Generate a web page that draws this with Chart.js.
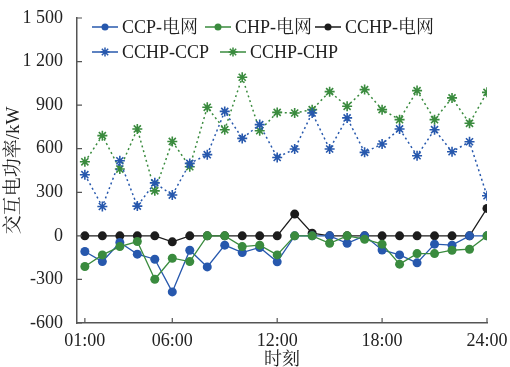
<!DOCTYPE html>
<html>
<head>
<meta charset="utf-8">
<script src="https://cdn.jsdelivr.net/npm/chart.js@4/dist/chart.umd.min.js"></script>
<style>
  html, body { margin: 0; padding: 0; background: #fff; }
  #wrap { width: 510px; height: 367px; }
</style>
</head>
<body>
<div id="wrap"><canvas id="c"></canvas></div>
<script>
// Horas (eje x) y ticks
const hours = [1,2,3,4,5,6,7,8,9,10,11,12,13,14,15,16,17,18,19,20,21,22,23,24];
const xTicks = [1, 6, 12, 18, 24];
const yTicks = [-600, -300, 0, 300, 600, 900, 1200, 1500];

// Series (kW)
const ccpGrid   = [-108,-177,-46,-126,-161,-386,-99,-214,-64,-115,-80,-179,0,0,0,-51,0,-97,-131,-186,-57,-64,0,0];
const chpGrid   = [-211,-131,-74,-39,-299,-154,-177,0,0,-74,-64,-131,0,0,-51,0,-23,-57,-195,-122,-122,-99,-92,0];
const cchpGrid  = [0,0,0,0,0,-41,0,0,0,0,0,0,150,18,0,0,0,0,0,0,0,0,0,189];
const cchpCcp   = [421,202,517,205,365,281,499,559,857,671,766,540,598,846,598,812,575,632,736,552,731,579,648,276];
const cchpChp   = [510,690,460,736,310,650,476,885,731,1092,724,850,846,869,993,892,1007,869,800,1000,800,950,775,988];

const names = ["CCP-电网", "CHP-电网", "CCHP-电网", "CCHP-CCP", "CCHP-CHP"];

const BLUE = "#2758ad";
const GREEN = "#3a8b3e";
const BLACK = "#1c1c1c";
const FONT = "'Liberation Serif', 'Noto Serif CJK SC', 'Noto Sans CJK SC', serif";

Chart.defaults.font.family = FONT;
Chart.defaults.color = "#222";

function pts(arr) { return arr.map((v, i) => ({ x: hours[i], y: v })); }

function fmtY(v) {
  const a = Math.abs(v);
  const s = a >= 1000 ? Math.floor(a / 1000) + " " + String(a % 1000).padStart(3, "0") : String(a);
  return (v < 0 ? "-" : "") + s;
}

function circleSet(label, data, color, order) {
  return {
    label, data: pts(data), order,
    borderColor: color, backgroundColor: color, borderWidth: 1.3,
    pointStyle: "circle", pointRadius: 4.5, pointBorderWidth: 0,
    pointBackgroundColor: color, tension: 0
  };
}
function starSet(label, data, color, order) {
  return {
    label, data: pts(data), order,
    borderColor: color, backgroundColor: color, borderWidth: 1.5, borderDash: [2, 3],
    pointStyle: "star", pointRadius: 5, pointBorderWidth: 1.6,
    pointBorderColor: color, tension: 0
  };
}

//Leyenda dentro del área
const legendPos = [
  { x: 92, y: 27 }, { x: 205, y: 27 }, { x: 315, y: 27 },
  { x: 92, y: 52 }, { x: 220, y: 52 }
];
const insideLegend = {
  id: "insideLegend",
  afterDraw(chart) {
    const ctx = chart.ctx;
    ctx.save();
    chart.data.datasets.forEach((ds, i) => {
      const p = legendPos[i];
      ctx.strokeStyle = ds.borderColor;
      ctx.lineWidth = 1.5;
      ctx.setLineDash([]);
      ctx.beginPath();
      ctx.moveTo(p.x, p.y);
      ctx.lineTo(p.x + 26, p.y);
      ctx.stroke();
      ctx.fillStyle = ds.borderColor;
      Chart.helpers.drawPoint(ctx, {
        pointStyle: ds.pointStyle, radius: ds.pointStyle === "star" ? 4.5 : 3.5,
        borderWidth: ds.pointStyle === "star" ? 1.4 : 0, rotation: 0
      }, p.x + 13, p.y);
      ctx.fillStyle = "#222";
      ctx.font = "18px " + FONT;
      ctx.textBaseline = "middle";
      ctx.textAlign = "left";
      ctx.fillText(ds.label, p.x + 30, p.y + 1);
    });
    ctx.restore();
  }
};

//Marcas de ticks hacia adentro
const innerTicks = {
  id: "innerTicks",
  afterDatasetsDraw(chart) {
    const { ctx, chartArea, scales } = chart;
    ctx.save();
    ctx.strokeStyle = "#555";
    ctx.lineWidth = 1.2;
    ctx.beginPath();
    xTicks.forEach(v => {
      const x = scales.x.getPixelForValue(v);
      ctx.moveTo(x, chartArea.bottom);
      ctx.lineTo(x, chartArea.bottom - 5);
    });
    yTicks.forEach(v => {
      const y = scales.y.getPixelForValue(v);
      ctx.moveTo(chartArea.left, y);
      ctx.lineTo(chartArea.left + 5, y);
    });
    ctx.stroke();
    ctx.restore();
  }
};

new Chart(document.getElementById("c"), {
  type: "line",
  data: {
    datasets: [
      circleSet(names[0], ccpGrid, BLUE, 2),
      circleSet(names[1], chpGrid, GREEN, 1),
      circleSet(names[2], cchpGrid, BLACK, 3),
      starSet(names[3], cchpCcp, BLUE, 4),
      starSet(names[4], cchpChp, GREEN, 5)
    ]
  },
  options: {
    responsive: true, maintainAspectRatio: false, animation: false,
    layout: { padding: { top: 18, right: 23, left: 0, bottom: 0 } },
    plugins: { legend: { display: false }, tooltip: { enabled: false } },
    scales: {
      x: {
        type: "linear", min: 0.55, max: 24,
        afterBuildTicks: s => { s.ticks = xTicks.map(v => ({ value: v })); },
        afterFit: s => { s.height = 44; },
        grid: { display: false },
        border: { display: true, color: "#555", width: 1.5 },
        ticks: {
          padding: -1, maxRotation: 0, autoSkip: false,
          font: { size: 18 }, color: "#222",
          callback: v => String(v).padStart(2, "0") + ":00"
        },
        title: { display: true, text: "时刻", font: { size: 18 }, color: "#222", padding: { top: 0, bottom: -4 } }
      },
      y: {
        min: -600, max: 1500,
        afterBuildTicks: s => { s.ticks = yTicks.map(v => ({ value: v })); },
        afterFit: s => { s.width = 77; },
        grid: { display: false },
        border: { display: true, color: "#555", width: 1.5 },
        ticks: { padding: 6, font: { size: 18 }, color: "#222", callback: v => fmtY(v) },
        title: { display: true, text: "交互电功率/kW", font: { size: 19 }, color: "#222", padding: { top: 3, bottom: 0 } }
      }
    }
  },
  plugins: [insideLegend, innerTicks]
});
</script>
</body>
</html>
